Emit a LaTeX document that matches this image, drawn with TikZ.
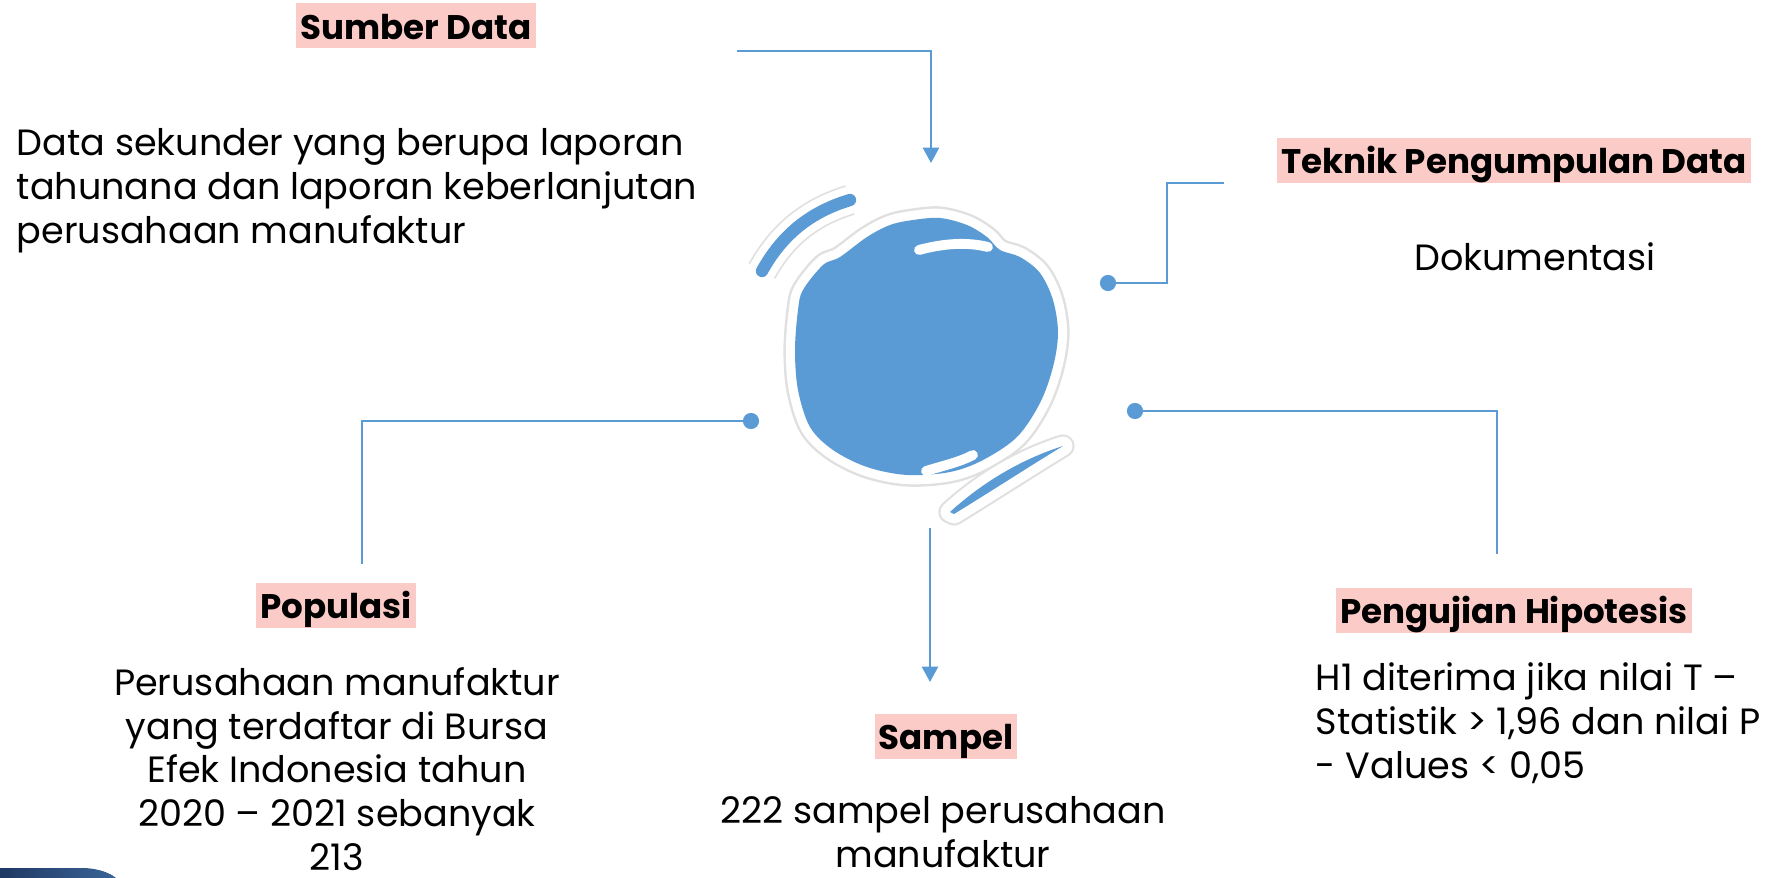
\documentclass[tikz,border=0pt]{standalone}
\usepackage{fontspec}
\setmainfont{Poppins}
\usetikzlibrary{arrows.meta}
\definecolor{lineblue}{RGB}{91,155,213}
\definecolor{pinkbg}{RGB}{251,203,199}
\definecolor{navy}{RGB}{31,56,100}
\tikzset{
	heading/.style={fill=pinkbg, font=\fontsize{9.7}{12}\selectfont\bfseries, inner xsep=1.2pt, inner ysep=0pt, text height=10.2pt, text depth=2.6pt, anchor=base},
	body/.style={font=\fontsize{10.4}{12.4}\selectfont, inner sep=0pt},
	conn/.style={lineblue, line width=0.7pt},
	tip/.style={-{Triangle[width=4.6pt, length=4.4pt]}},
}
\begin{document}
\begin{tikzpicture}[x=0.01cm, y=-0.01cm]
	\useasboundingbox (0,0) rectangle (1765,878);

	\coordinate (S1) at (737,51);
	\coordinate (S2) at (931,163);
	\coordinate (T1) at (1108,283);
	\coordinate (T2) at (1167,183);
	\coordinate (T3) at (1224,183);
	\coordinate (H1) at (1135,411);
	\coordinate (H2) at (1497,554);
	\coordinate (P1) at (751,421);
	\coordinate (P2) at (362,564);
	\coordinate (M1) at (930,528);
	\coordinate (M2) at (930,682);

	\fill [lineblue, line join=round, preaction={draw=black!12, line width=6.6pt}, preaction={draw=white, line width=5.2pt}]
		plot [smooth cycle, tension=0.55] coordinates {(913,220) (940,218) (967,225) (987,237) (1000,250) (1020,257) (1040,273) (1053,300) (1058,333) (1053,367) (1040,403) (1017,437) (983,460) (950,472) (907,475) (867,467) (833,450) (810,427) (798,390) (795,350) (798,310) (803,290) (823,265) (840,257) (867,237) (890,225)};
	\draw [white, line width=2.8pt, line cap=round] (919,250) .. controls (945,243) and (968,242) .. (988,247);
	\draw [white, line width=2.8pt, line cap=round] (926,471) .. controls (942,466) and (960,462) .. (973,455);
	\draw [lineblue, line width=3.5pt, line cap=round, preaction={draw=black!12, line width=8.8pt}, preaction={draw=white, line width=7.8pt}]
		(762,271) .. controls (782,235) and (810,212) .. (850,200);
	\fill [lineblue, line join=round, preaction={draw=black!12, line width=6.6pt, line join=round}, preaction={draw=white, line width=5.4pt, line join=round}]
		(950,512) .. controls (985,480) and (1025,458) .. (1063,446) .. controls (1030,466) and (990,492) .. (954,514) -- cycle;

	\shade [left color=navy, right color=navy!55!lineblue] (0,868) -- (85,868) .. controls (100,869) and (110,873) .. (116,878) -- (0,878) -- cycle;

	\node [heading] (sumber) at (416,39) {Sumber Data};
	\node [heading] (teknik) at (1514,173.5) {Teknik Pengumpulan Data};
	\node [heading] (populasi) at (336,618.5) {Populasi};
	\node [heading] (sampel) at (946,749.5) {Sampel};
	\node [heading] (pengujian) at (1514,623.5) {Pengujian Hipotesis};

	\node [body, align=left, anchor=base west] (sumbertxt) at (16,243) {Data sekunder yang berupa laporan\\tahunana dan laporan keberlanjutan\\perusahaan manufaktur};
	\node [body, anchor=base] (teknktxt) at (1535,270) {Dokumentasi};
	\node [body, align=center, anchor=base] (populasitxt) at (337,870) {Perusahaan manufaktur\\yang terdaftar di Bursa\\Efek Indonesia tahun\\2020 -- 2021 sebanyak\\213};
	\node [body, align=center, anchor=base] (sampeltxt) at (943,867) {222 sampel perusahaan\\manufaktur};
	\node [body, align=left, anchor=base west] (pengujiantxt) at (1315,778) {H1 diterima jika nilai T --\\Statistik > 1,96 dan nilai P\\- Values < 0,05};

	\draw [conn, tip] (S1) -| (S2);
	\draw [conn] (T1) -| (T2) -- (T3);
	\draw [conn] (H1) -| (H2);
	\draw [conn] (P1) -| (P2);
	\draw [conn, tip] (M1) -- (M2);
	\foreach \d in {T1, H1, P1}
		\fill [lineblue] (\d) circle (2.3pt);
\end{tikzpicture}
\end{document}
